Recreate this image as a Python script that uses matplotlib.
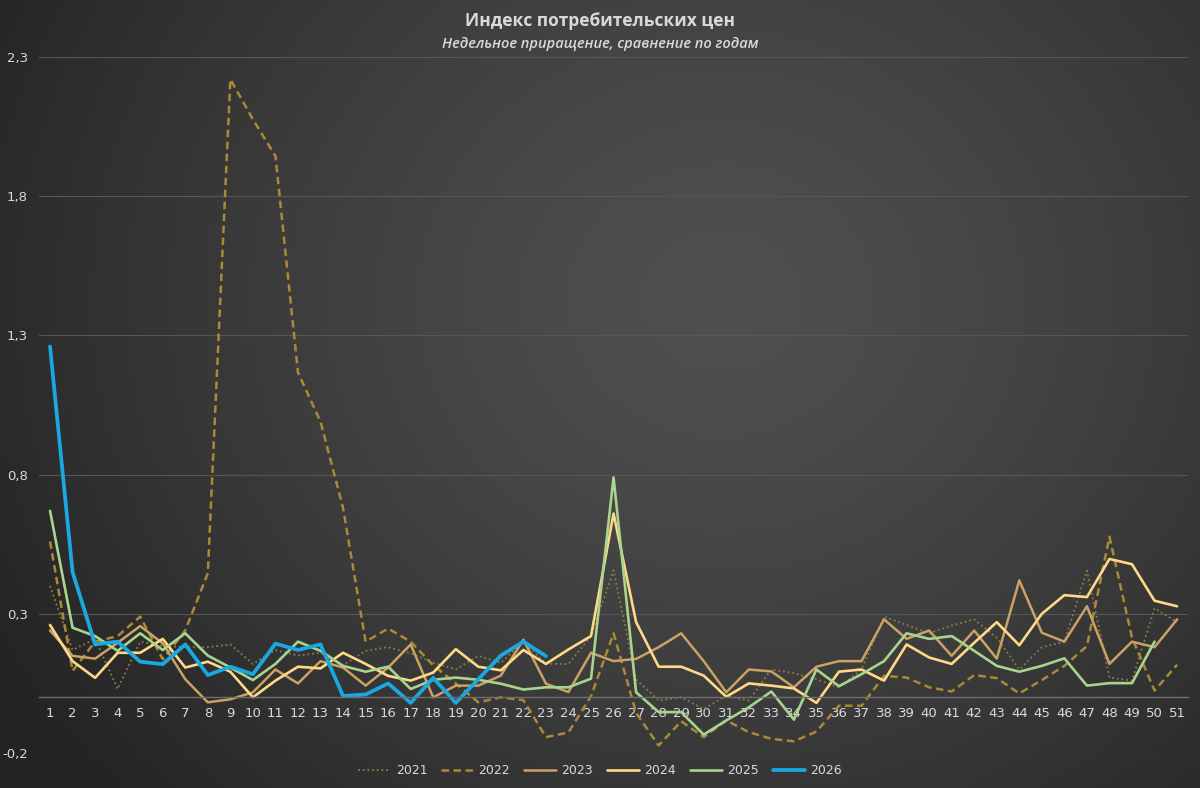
import numpy as np
import matplotlib
matplotlib.use('Agg')
import matplotlib.pyplot as plt
from matplotlib.ticker import FuncFormatter, FixedLocator

weeks = list(range(1, 52))
y2021 = [0.40, 0.17, 0.21, 0.03, 0.20, 0.185, 0.18, 0.18, 0.19, 0.12,
         0.17, 0.15, 0.16, 0.115, 0.167, 0.18, 0.158, 0.125, 0.10, 0.149,
         0.124, 0.20, 0.12, 0.12, 0.22, 0.456, 0.064, -0.011, 0.0, -0.042,
         0.006, -0.012, 0.10, 0.087, 0.065, 0.036, 0.10, 0.29, 0.26, 0.23,
         0.258, 0.28, 0.214, 0.10, 0.18, 0.20, 0.455, 0.071, 0.06, 0.32, 0.27]
y2022 = [0.56, 0.095, 0.20, 0.22, 0.29, 0.137, 0.24, 0.446, 2.22, 2.076,
         1.944, 1.167, 0.99, 0.68, 0.20, 0.247, 0.20, 0.115, 0.05, -0.018,
         0.0, -0.01, -0.143, -0.126, 0.004, 0.23, -0.056, -0.173, -0.086, -0.143,
         -0.083, -0.125, -0.149, -0.158, -0.123, -0.03, -0.03, 0.077, 0.071, 0.036,
         0.021, 0.08, 0.069, 0.014, 0.062, 0.113, 0.184, 0.577, 0.214, 0.024, 0.117]
y2023 = [0.24, 0.149, 0.139, 0.196, 0.256, 0.194, 0.065, -0.018, -0.007, 0.018,
         0.10, 0.05, 0.13, 0.107, 0.042, 0.107, 0.19, 0.0, 0.042, 0.042,
         0.078, 0.207, 0.049, 0.019, 0.16, 0.13, 0.138, 0.18, 0.23, 0.13,
         0.018, 0.10, 0.093, 0.036, 0.11, 0.13, 0.13, 0.28, 0.21, 0.24,
         0.149, 0.24, 0.139, 0.42, 0.232, 0.20, 0.327, 0.12, 0.20, 0.18, 0.28]
y2024 = [0.26, 0.13, 0.07, 0.16, 0.16, 0.21, 0.107, 0.128, 0.092, 0.0,
         0.06, 0.11, 0.104, 0.16, 0.12, 0.077, 0.06, 0.089, 0.173, 0.11,
         0.097, 0.17, 0.12, 0.172, 0.22, 0.66, 0.27, 0.11, 0.11, 0.078,
         0.002, 0.05, 0.042, 0.032, -0.02, 0.092, 0.10, 0.06, 0.19, 0.143,
         0.12, 0.196, 0.27, 0.187, 0.30, 0.367, 0.36, 0.497, 0.478, 0.347, 0.327]
y2025 = [0.67, 0.25, 0.22, 0.167, 0.23, 0.17, 0.23, 0.15, 0.107, 0.062,
         0.12, 0.20, 0.167, 0.113, 0.092, 0.11, 0.03, 0.063, 0.071, 0.063,
         0.049, 0.028, 0.036, 0.036, 0.067, 0.79, 0.018, -0.053, -0.053, -0.134,
         -0.083, -0.036, 0.021, -0.08, 0.10, 0.04, 0.083, 0.13, 0.23, 0.21,
         0.22, 0.167, 0.113, 0.092, 0.113, 0.14, 0.042, 0.051, 0.051, 0.20]
y2026 = [1.26, 0.45, 0.19, 0.20, 0.128, 0.119, 0.19, 0.08, 0.11, 0.083,
         0.193, 0.17, 0.19, 0.005, 0.01, 0.05, -0.02, 0.07, -0.02, 0.065,
         0.15, 0.20, 0.148]

yticks = [-0.2, 0.3, 0.8, 1.3, 1.8, 2.3]
title = "Индекс потребительских цен"
subtitle = "Недельное приращение, сравнение по годам"

series = [
    ("2021", y2021, "#8f7c43", 1.3, (0, (1.0, 1.6))),
    ("2022", y2022, "#a98a37", 1.8, (0, (3.0, 1.8))),
    ("2023", y2023, "#cba264", 1.8, "-"),
    ("2024", y2024, "#ffd887", 1.9, "-"),
    ("2025", y2025, "#a8d48e", 1.9, "-"),
    ("2026", y2026, "#1aa8e0", 2.7, "-"),
]

fig = plt.figure(figsize=(12, 7.88), dpi=100)

# radial gradient background
bg = fig.add_axes([0, 0, 1, 1], zorder=0)
h, w = 394, 600
yy, xx = np.mgrid[0:h, 0:w]
cx, cy = 0.60 * w, 0.38 * h
r = np.sqrt(((xx - cx) / (0.70 * w)) ** 2 + ((yy - cy) / (0.95 * h)) ** 2)
r = np.clip(r, 0, 1)
c0 = np.array([0x50, 0x50, 0x50]) / 255
c1 = np.array([0x23, 0x23, 0x23]) / 255
img = c0 + (c1 - c0) * (r[..., None] ** 1.3)
bg.imshow(img, aspect='auto', extent=[0, 1, 0, 1], origin='upper')
bg.axis('off')

ax = fig.add_axes([0.0323, 0.0444, 0.9580, 0.8833], zorder=1)
ax.set_facecolor('none')

for name, vals, col, lw, ls in series:
    ax.plot(weeks[:len(vals)], vals, color=col, lw=lw, linestyle=ls, label=name,
            solid_joinstyle='round', solid_capstyle='round', dash_capstyle='butt')

ax.set_xlim(0.5, 51.5)
ax.set_ylim(-0.2, 2.3)
ax.yaxis.set_major_locator(FixedLocator(yticks))
ax.yaxis.set_major_formatter(FuncFormatter(lambda v, p: f"{v:.1f}".replace('.', ',')))
ax.set_xticks(weeks)
ax.set_xticklabels([str(wk) for wk in weeks])
ax.grid(axis='y', color='#565656', lw=0.8)
ax.set_axisbelow(True)
for s in ['top', 'right', 'left']:
    ax.spines[s].set_visible(False)
ax.spines['bottom'].set_position(('data', 0))
ax.spines['bottom'].set_color('#6e6e6e')
ax.spines['bottom'].set_linewidth(1.0)
ax.tick_params(axis='both', length=0, colors='#d9d9d9', labelsize=9.5)
ax.tick_params(axis='y', pad=8)
ax.tick_params(axis='x', pad=7)

fig.text(0.5, 1 - 21 / 788, title, ha='center', va='center', color='#d9d9d9',
         fontsize=12.5, fontweight='bold', family='Open Sans')
fig.text(0.5, 1 - 44 / 788, subtitle, ha='center', va='center', color='#d9d9d9',
         fontsize=10.5, fontweight='semibold', style='italic', family='Open Sans')

leg = fig.legend(loc='center', bbox_to_anchor=(0.5, 1 - 771 / 788), ncol=6, frameon=False,
                 fontsize=9, handlelength=2.6, columnspacing=1.1, handletextpad=0.4)
for t in leg.get_texts():
    t.set_color('#d9d9d9')

fig.savefig('out.png', dpi=100)
